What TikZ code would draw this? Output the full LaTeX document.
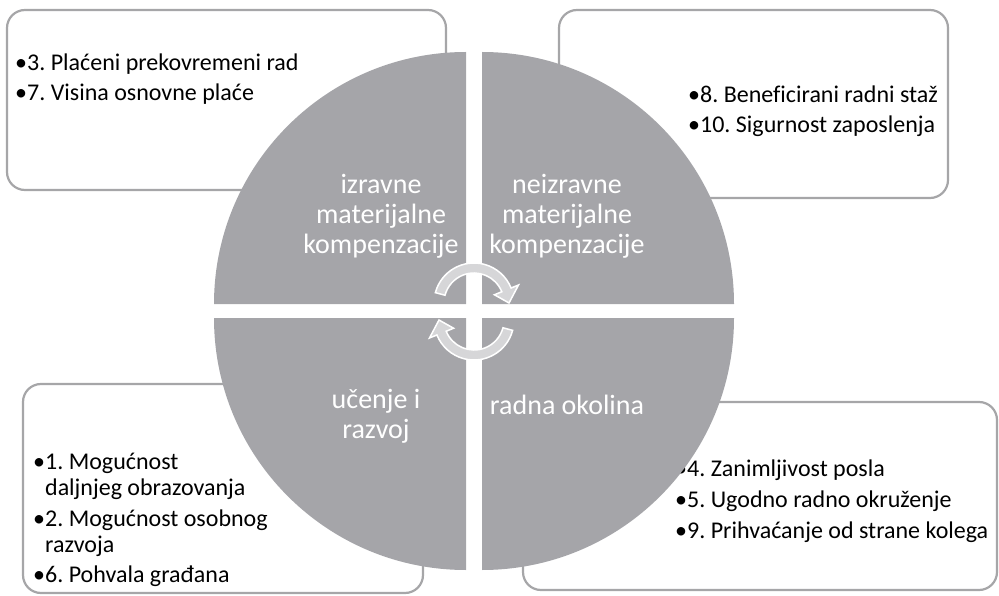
\documentclass[tikz,border=0pt]{standalone}
\usepackage{fontspec}
\setmainfont{Carlito}[Ligatures=NoCommon]
\usetikzlibrary{calc}
\definecolor{quadgray}{RGB}{165,165,169}
\definecolor{framegray}{RGB}{166,166,168}
\definecolor{arrowgray}{RGB}{214,214,216}
\frenchspacing
\begin{document}
\begin{tikzpicture}[x=1pt, y=-1pt,
  box/.style={draw=framegray, line width=2.2pt, rounded corners=18pt, fill=white},
  itemtext/.style={anchor=north west, inner sep=0pt, align=left, font=\fontsize{24}{26}\selectfont},
  quarter/.style={fill=quadgray},
  quadtext/.style={text=white, align=center, inner sep=0pt, font=\fontsize{28}{30}\selectfont},
  cyclearrow/.style={fill=arrowgray, draw=white, line width=1.5pt, line join=miter}]
  \useasboundingbox (0,0) rectangle (999,596);
  \draw[box] (7,10) rectangle (446,190);
  \draw[box] (559,10) rectangle (948,198);
  \draw[box] (23,384) rectangle (423,593);
  \draw[box] (523,402) rectangle (997,590);
  \node[itemtext] (directitems) at (15,54) {•3. Plaćeni prekovremeni rad\\[4pt]•7. Visina osnovne plaće};
  \node[itemtext] (indirectitems) at (688,86) {•8. Beneficirani radni staž\\[4pt]•10. Sigurnost zaposlenja};
  \node[itemtext] (learnitems) at (33,453) {•1. Mogućnost\\\phantom{•}daljnjeg obrazovanja\\[5pt]•2. Mogućnost osobnog\\\phantom{•}razvoja\\[4pt]•6. Pohvala građana};
  \node[itemtext] (workitems) at (675,460) {•4. Zanimljivost posla\\[5pt]•5. Ugodno radno okruženje\\[5pt]•9. Prihvaćanje od strane kolega};
  \fill[quarter] (466,304) -- ++(-252,0) arc (180:270:252) -- cycle;
  \fill[quarter] (482,304) -- ++(0,-252) arc (270:360:252) -- cycle;
  \fill[quarter] (466,318) -- ++(0,252) arc (90:180:252) -- cycle;
  \fill[quarter] (482,318) -- ++(252,0) arc (0:90:252) -- cycle;
  \node[quadtext] (direct) at (381,216) {izravne\\materijalne\\kompenzacije};
  \node[quadtext] (indirect) at (567,216) {neizravne\\materijalne\\kompenzacije};
  \node[quadtext] (learning) at (376,416) {učenje i\\razvoj};
  \node[quadtext] (workplace) at (567,405) {radna okolina};
  \coordinate (upper) at (474,303);
  \coordinate (lower) at (474,320);
  \filldraw[cyclearrow] ($(upper)+(195:40)$) arc (195:338:40) -- ($(upper)+(338:48)$)
    -- ($(upper)+(360:35)$) -- ($(upper)+(338:22)$) -- ($(upper)+(338:30)$) arc (338:195:30) -- cycle;
  \filldraw[cyclearrow] ($(lower)+(15:40)$) arc (15:158:40) -- ($(lower)+(158:48)$)
    -- ($(lower)+(180:35)$) -- ($(lower)+(158:22)$) -- ($(lower)+(158:30)$) arc (158:15:30) -- cycle;
\end{tikzpicture}
\end{document}
